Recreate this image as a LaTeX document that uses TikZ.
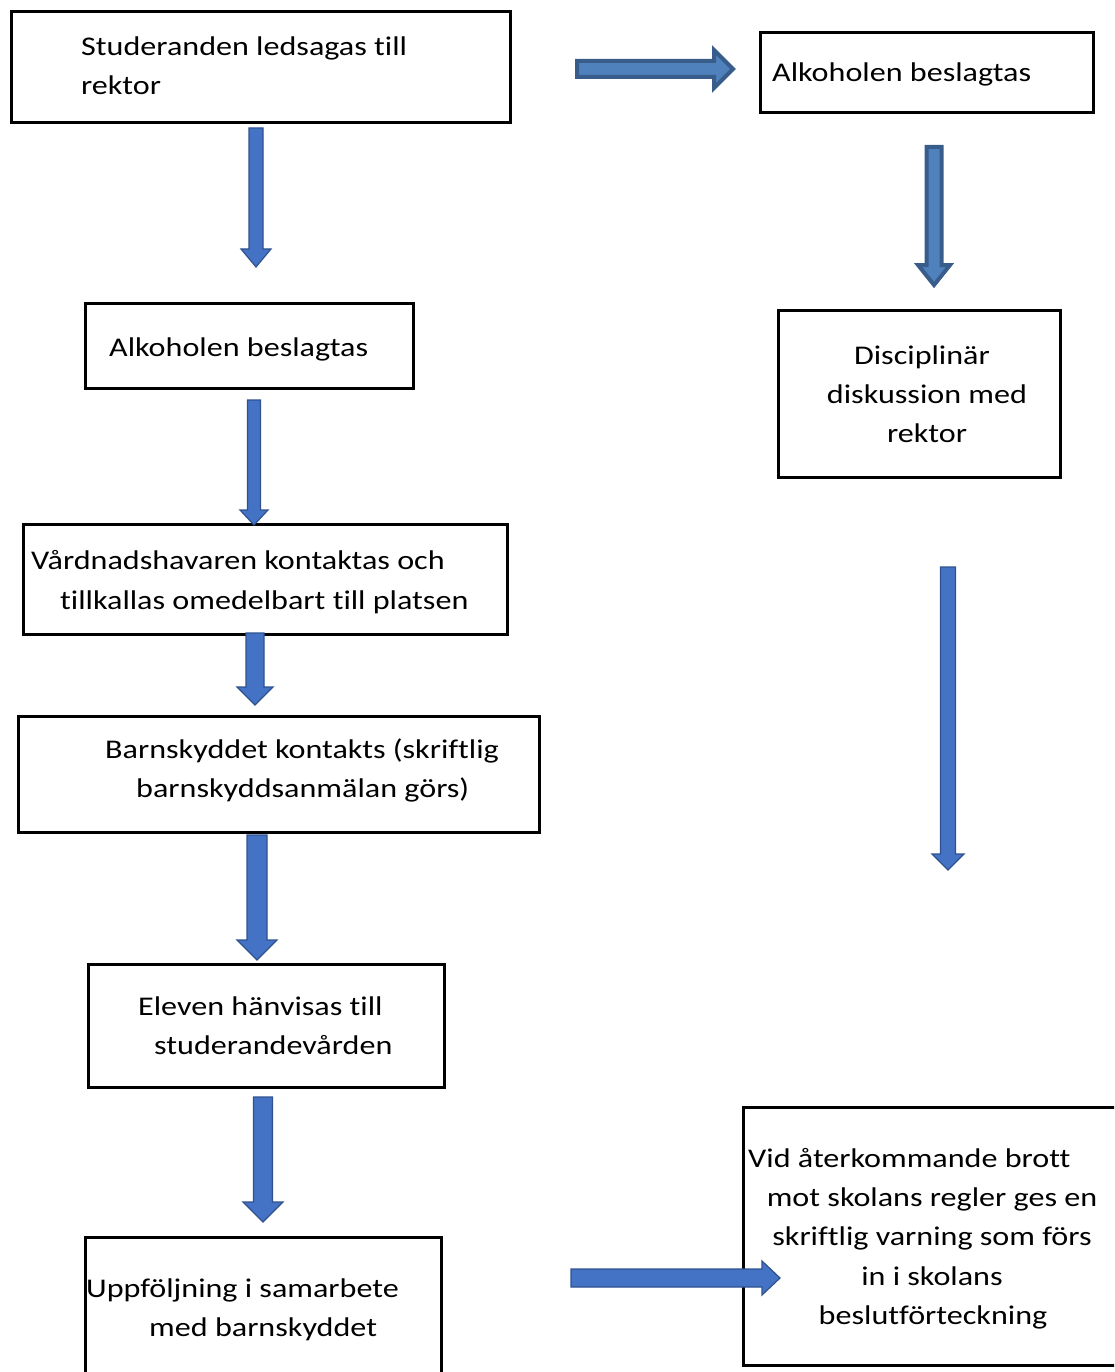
\documentclass[tikz,border=0pt]{standalone}
\usepackage{fontspec}
\setmainfont{Carlito}[FakeStretch=1.19,Ligatures=NoCommon]
\definecolor{afill}{HTML}{4472C4}
\definecolor{aline}{HTML}{2F528F}
\definecolor{dfill}{HTML}{4F81BD}
\definecolor{dline}{HTML}{385D8A}
\newcommand{\myDArrow}[7][]{\draw[barrow,#1] ({#2-#5},#3) -- ({#2+#5},#3) -- ({#2+#5},{#4-#7}) -- ({#2+#6},{#4-#7}) -- (#2,#4) -- ({#2-#6},{#4-#7}) -- ({#2-#5},{#4-#7}) -- cycle;}
\newcommand{\myRArrow}[7][]{\draw[barrow,#1] (#3,{#2-#5}) -- (#3,{#2+#5}) -- ({#4-#7},{#2+#5}) -- ({#4-#7},{#2+#6}) -- (#4,#2) -- ({#4-#7},{#2-#6}) -- ({#4-#7},{#2-#5}) -- cycle;}
\begin{document}
\begin{tikzpicture}[x=1pt,y=-1pt,
  box/.style={draw=black,line width=3pt,anchor=north west,inner sep=0pt,fill=white},
  tl/.style={anchor=base west,inner sep=0pt,font=\fontsize{27}{39}\selectfont},
  tc/.style={anchor=base,inner sep=0pt,font=\fontsize{27}{39}\selectfont},
  barrow/.style={fill=afill,draw=aline,line width=1.2pt,line join=miter},
  darrow/.style={fill=dfill,draw=dline,line width=4pt}]
\useasboundingbox (0,0) rectangle (1114,1372);
\begin{scope}
\clip (0,0) rectangle (1114,1372);
% boxes
\node[box,minimum width=499pt,minimum height=111pt] (A) at (10,10) {};
\node[box,minimum width=333pt,minimum height=80pt] (B) at (759,31) {};
\node[box,minimum width=282pt,minimum height=167pt] (C) at (777,309) {};
\node[box,minimum width=388pt,minimum height=258pt] (D) at (742,1106) {};
\node[box,minimum width=328pt,minimum height=85pt] (E) at (84,302) {};
\node[box,minimum width=484pt,minimum height=110pt] (F) at (22,523) {};
\node[box,minimum width=521pt,minimum height=116pt] (G) at (17,715) {};
\node[box,minimum width=356pt,minimum height=123pt] (H) at (87,963) {};
\node[box,minimum width=356pt,minimum height=160pt] (I) at (84,1236) {};
% texts
\node[tl] (a1) at (81,56) {Studeranden ledsagas till};
\node[tl] (a2) at (81,95) {rektor};
\node[tl] (b1) at (772,82) {Alkoholen beslagtas};
\node[tc] (c1) at (922,364) {Disciplinär};
\node[tc] (c2) at (927,403) {diskussion med};
\node[tc] (c3) at (927,442) {rektor};
\node[tl] (d1) at (748,1167) {Vid återkommande brott};
\node[tc] (d2) at (932,1206) {mot skolans regler ges en};
\node[tc] (d3) at (932,1245) {skriftlig varning som förs};
\node[tc] (d4) at (932,1285) {in i skolans};
\node[tc] (d5) at (933,1324) {beslutförteckning};
\node[tl] (e1) at (109,356) {Alkoholen beslagtas};
\node[tl] (f1) at (31,569) {Vårdnadshavaren kontaktas och};
\node[tl] (f2) at (60,609) {tillkallas omedelbart till platsen};
\node[tl] (g1) at (105,758) {Barnskyddet kontakts (skriftlig};
\node[tl] (g2) at (136,797) {barnskyddsanmälan görs)};
\node[tl] (h1) at (138,1015) {Eleven hänvisas till};
\node[tl] (h2) at (154,1054) {studerandevården};
\node[tl] (i1) at (86,1297) {Uppföljning i samarbete};
\node[tl] (i2) at (149,1336) {med barnskyddet};
% arrows
\myDArrow{256}{128}{267}{7}{15}{18}
\myDArrow{254}{400}{525}{6.5}{14}{15}
\myDArrow{255}{633}{705}{9}{18}{18}
\myDArrow{257}{835}{960}{10}{20}{20}
\myDArrow{263}{1097}{1222}{9.5}{20}{20}
\myDArrow[darrow]{934}{147}{285}{7.5}{16}{20}
\myDArrow{948}{567}{870}{7.5}{16}{16}
\myRArrow[darrow]{69}{577}{733}{8}{19}{19}
\myRArrow{1278}{571}{780}{9}{17}{18}
\end{scope}
\end{tikzpicture}
\end{document}
